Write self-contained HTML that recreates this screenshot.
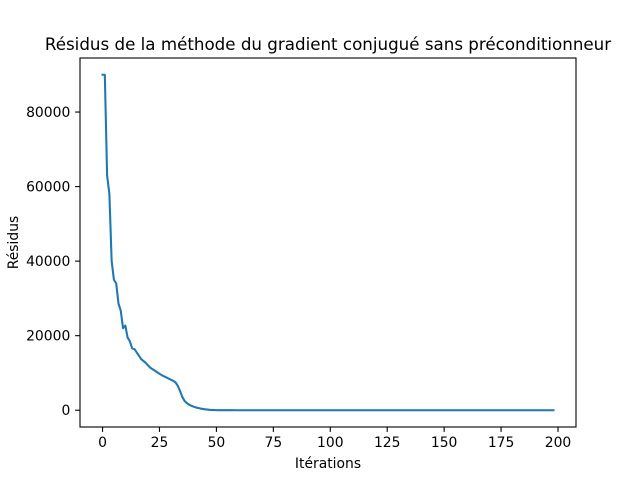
<!DOCTYPE html>
<html><head><meta charset="utf-8"><style>
body{margin:0;background:#fff;}
svg{display:block;font-family:"DejaVu Sans","Liberation Sans",sans-serif;}
</style></head><body>
<svg id="chart" width="640" height="480" viewBox="0 0 640 480">
<rect width="640" height="480" fill="#fff"/>
<text x="328" y="50" text-anchor="middle" font-size="16.7">Résidus de la méthode du gradient conjugué sans préconditionneur</text>
<g id="xt"></g>
<g id="yt"></g>
<path id="line" fill="none" stroke="#1f77b4" stroke-width="2.08" stroke-linejoin="round" stroke-linecap="square"/>
<rect x="80" y="58" width="496" height="369" fill="none" stroke="#000" stroke-width="1.1"/>
<text x="328" y="468" text-anchor="middle" font-size="13.9">Itérations</text>
<text transform="translate(18,242.5) rotate(-90)" text-anchor="middle" font-size="13.9">Résidus</text>
</svg>
<script>
const headValues=[90000,90000,63000,58000,40000,35000,34000,28600,26700,22000,22700,19500,18500,16600,16400,15500,14600,13700,13200,12700,12000,11400,11000,10600,10200,9800,9400,9100,8800,8500,8200,7900,7500,6600,5200,3600,2500,1900,1500,1200,950,750,600,450,350,250,180,120,80,50,30,20,12,8,5,3,2,1];
const totalIters=199;
const xTicks=[0,25,50,75,100,125,150,175,200];
const yTicks=[0,20000,40000,60000,80000];
const residuals=[];for(let i=0;i<totalIters;i++)residuals.push(i<headValues.length?headValues[i]:0);
const X0=80,X1=576,Y0=427,Y1=58;
const xmin=-9.9,xmax=207.9,ymin=-4500,ymax=94500;
const sx=v=>X0+(v-xmin)/(xmax-xmin)*(X1-X0);
const sy=v=>Y0-(v-ymin)/(ymax-ymin)*(Y0-Y1);
const NS="http://www.w3.org/2000/svg";
const xt=document.getElementById('xt'),yt=document.getElementById('yt');
xTicks.forEach(t=>{
 const l=document.createElementNS(NS,'line');
 
 
 l.setAttribute('x1',sx(t));l.setAttribute('x2',sx(t));l.setAttribute('y1',Y0);l.setAttribute('y2',Y0+4.9);l.setAttribute('stroke','#000');l.setAttribute('stroke-width','1.1');xt.appendChild(l);
 const s=document.createElementNS(NS,'text');
 
 
 s.setAttribute('x',sx(t));s.setAttribute('y',Y0+20);s.setAttribute('text-anchor','middle');s.setAttribute('font-size','13.9');s.textContent=t;xt.appendChild(s);
});
yTicks.forEach(t=>{
 const l=document.createElementNS(NS,'line');
 
 
 l.setAttribute('x1',X0-4.9);l.setAttribute('x2',X0);l.setAttribute('y1',sy(t));l.setAttribute('y2',sy(t));l.setAttribute('stroke','#000');l.setAttribute('stroke-width','1.1');yt.appendChild(l);
 const s=document.createElementNS(NS,'text');
 
 
 s.setAttribute('x',X0-9.7);s.setAttribute('y',sy(t)+5);s.setAttribute('text-anchor','end');s.setAttribute('font-size','13.9');s.textContent=t;yt.appendChild(s);
});
document.getElementById('line').setAttribute('d',residuals.map((v,i)=>(i?'L':'M')+sx(i).toFixed(2)+' '+sy(v).toFixed(2)).join(' '));
</script>
</body></html>
